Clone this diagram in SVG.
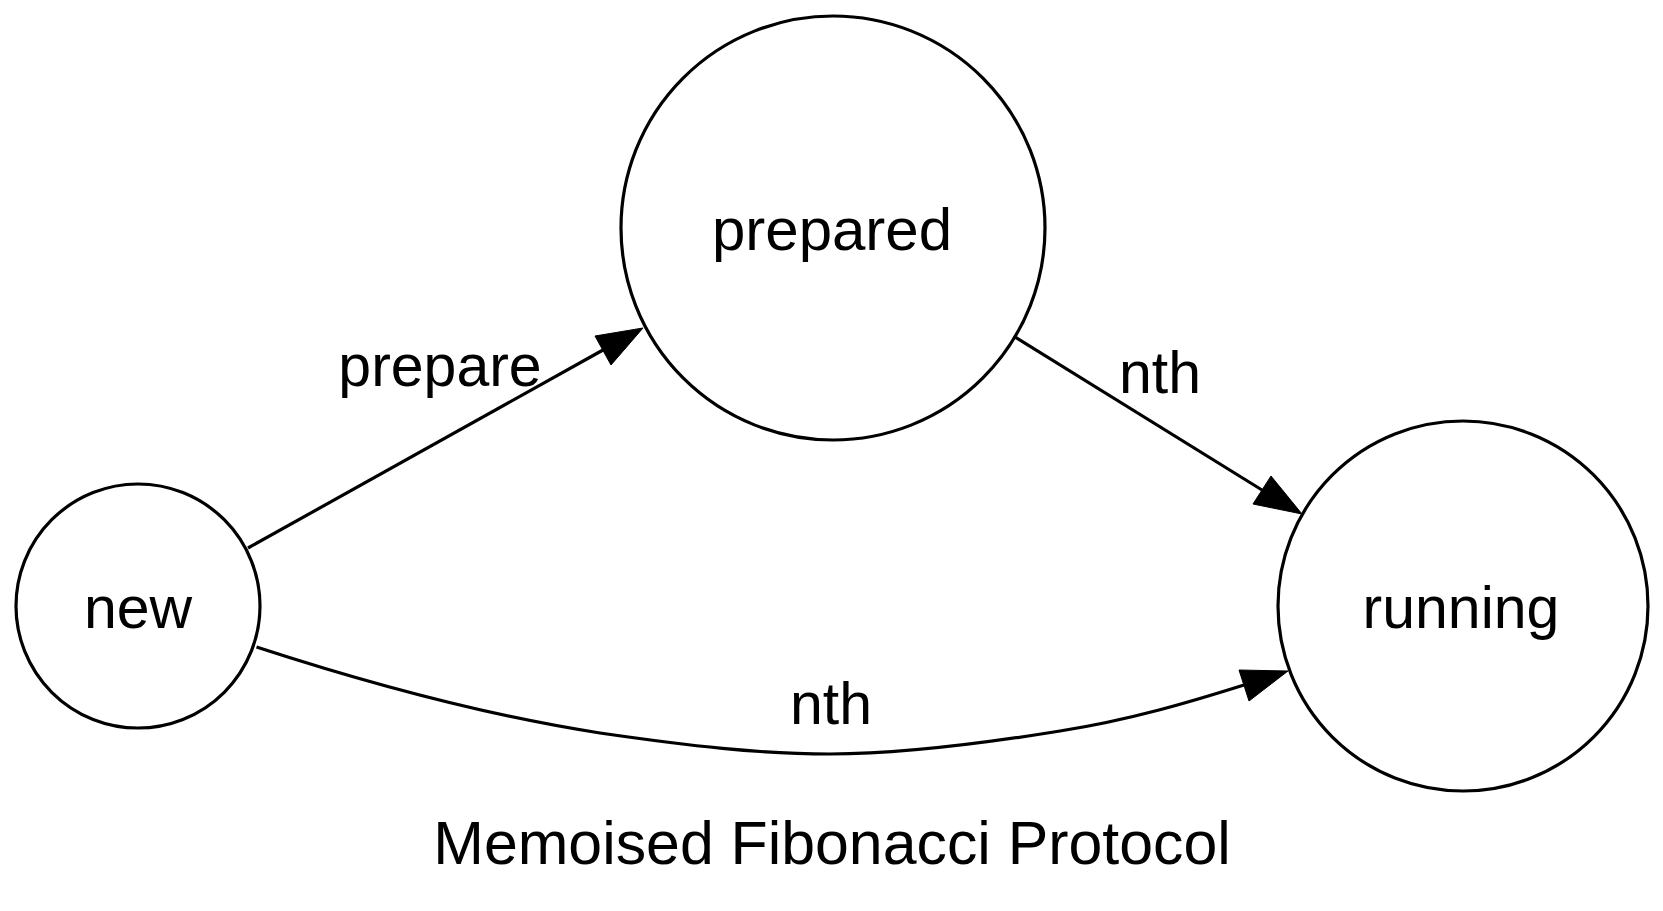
<svg xmlns="http://www.w3.org/2000/svg" width="1663" height="911" viewBox="0 0 1663 911">
<style>
.node circle{fill:#fff;stroke:#000;stroke-width:3.2}
text{font-family:"Liberation Sans",Arial,Helvetica,sans-serif;font-size:59px;fill:#000;text-anchor:middle}
.edge{fill:none;stroke:#000;stroke-width:3.2}
.head{fill:#000;stroke:#000;stroke-width:1}
</style>
<rect width="1663" height="911" fill="#fff"/>
<g id="connectors">
  <g id="e-new-prepared">
    <path class="edge" d="M248,548 L603,350"/>
    <polygon class="head" points="643,328 595,336 611,365"/>
    <text x="440" y="386">prepare</text>
  </g>
  <g id="e-prepared-running">
    <path class="edge" d="M1015,337 L1262,490"/>
    <polygon class="head" points="1302,514 1271,476 1253,504"/>
    <text x="1160" y="393">nth</text>
  </g>
  <g id="e-new-running">
    <path class="edge" d="M256.5,647 C370,684 490,716 600,733 C690,746 760,754 830,754 C900,754 980,744 1060,731 C1130,720 1190,702 1244,685"/>
    <polygon class="head" points="1288,671 1239,670 1249,701"/>
    <text x="831" y="724">nth</text>
  </g>
</g>
<g id="node-new" class="node">
  <circle cx="138" cy="606" r="122"/>
  <text x="138" y="628">new</text>
</g>
<g id="node-prepared" class="node">
  <circle cx="833" cy="228" r="212"/>
  <text x="832" y="250" style="font-size:60px">prepared</text>
</g>
<g id="node-running" class="node">
  <circle cx="1463" cy="606" r="185"/>
  <text x="1461" y="628">running</text>
</g>
<text id="title" x="832" y="864" style="font-size:60.8px">Memoised Fibonacci Protocol</text>
</svg>
